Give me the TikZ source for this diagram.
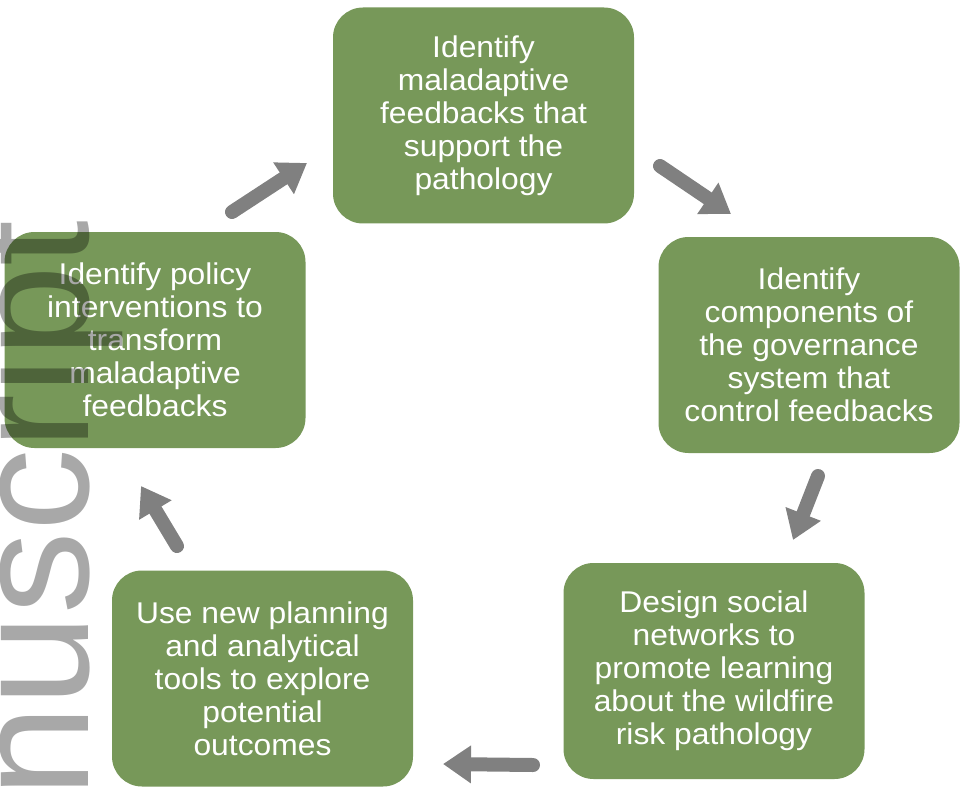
\documentclass[tikz,border=0pt]{standalone}
\usepackage{fontspec}
\setmainfont{Liberation Sans}
\newfontfamily\stepfont{Liberation Sans}[FakeStretch=1.06]
\usetikzlibrary{arrows.meta}
\definecolor{boxgreen}{RGB}{119,152,89}
\definecolor{arrowgray}{RGB}{128,128,128}
\tikzset{
  stepbox/.style={fill=boxgreen, rounded corners=30pt, inner sep=0pt,
    minimum width=301pt, minimum height=216pt, text=white, align=center,
    font=\stepfont\fontsize{30}{33}\selectfont},
  cyclearrow/.style={draw=arrowgray, line width=14pt, line cap=round,
    -{Triangle[width=36pt, length=28pt]}},
  watermark/.style={rotate=90, anchor=base west, inner sep=0pt,
    text=black, text opacity=0.34, font=\fontsize{165}{165}\selectfont}
}
\begin{document}
\begin{tikzpicture}[x=1pt, y=-1pt]
  \useasboundingbox (0,0) rectangle (965,794);
  \clip (0,0) rectangle (965,794);

  % the five steps of the cycle
  \node[stepbox] (ident)  at (483.5,115.5) {Identify\\maladaptive\\feedbacks that\\support the\\pathology};
  \node[stepbox] (govern) at (809,345)     {Identify\\components of\\the governance\\system that\\control feedbacks};
  \node[stepbox] (design) at (714,671)     {Design social\\networks to\\promote learning\\about the wildfire\\risk pathology};
  \node[stepbox] (tools)  at (262.5,678.5) {Use new planning\\and analytical\\tools to explore\\potential\\outcomes};
  \node[stepbox] (policy) at (155,340)     {Identify policy\\interventions to\\transform\\maladaptive\\feedbacks};

  % arrow end points between neighbouring steps
  \coordinate (a1s) at (232,212); \coordinate (a1e) at (307,163);
  \coordinate (a2s) at (660,166); \coordinate (a2e) at (731,214);
  \coordinate (a3s) at (818,476); \coordinate (a3e) at (793,540);
  \coordinate (a4s) at (533,765); \coordinate (a4e) at (443,764);
  \coordinate (a5s) at (177,546); \coordinate (a5e) at (141,486);

  \draw[cyclearrow] (a1s) -- (a1e);
  \draw[cyclearrow] (a2s) -- (a2e);
  \draw[cyclearrow] (a3s) -- (a3e);
  \draw[cyclearrow] (a4s) -- (a4e);
  \draw[cyclearrow] (a5s) -- (a5e);

  % margin stamp
  \node[watermark] (stamp) at (88,798) {nuscript};
\end{tikzpicture}
\end{document}
